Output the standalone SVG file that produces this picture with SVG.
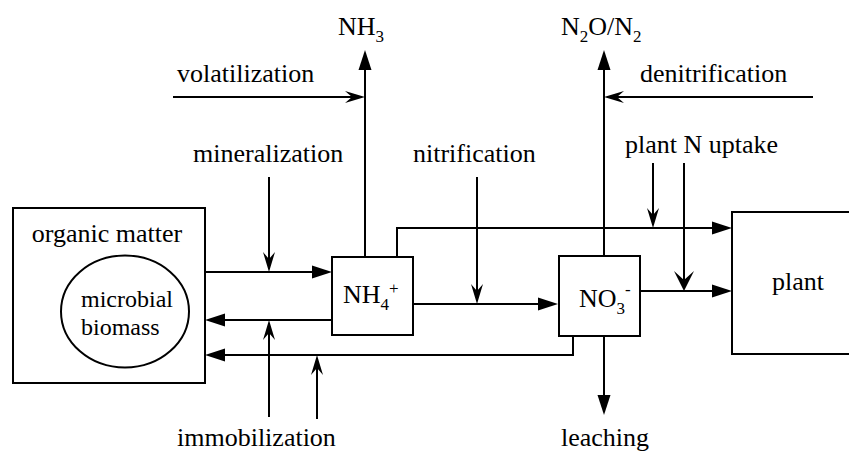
<svg xmlns="http://www.w3.org/2000/svg" width="849" height="452" viewBox="0 0 849 452">
<style>
text{font-family:"Liberation Serif","Tinos","Noto Serif","DejaVu Serif","FreeSerif","Nimbus Roman","Times New Roman",serif;font-size:26px;fill:#000}
.sm{font-size:24px}
.sub{font-size:17px}
.box{fill:#fff;stroke:#000;stroke-width:2}
.c path{fill:none;stroke:#000;stroke-width:2}
.mk{fill:#000;stroke:none}
</style>
<defs>
<marker id="tri" markerUnits="userSpaceOnUse" markerWidth="22" markerHeight="14" refX="17" refY="7" orient="auto" overflow="visible"><path class="mk" d="M0,0.5 L20,7 L0,13.5 Z"/></marker>
<marker id="st" markerUnits="userSpaceOnUse" markerWidth="22" markerHeight="14" refX="17" refY="6.5" orient="auto" overflow="visible"><path class="mk" d="M0,0.5 L20,6.5 L0,12.5 L7,6.5 Z"/></marker>
<marker id="bst" markerUnits="userSpaceOnUse" markerWidth="22" markerHeight="22" refX="17" refY="10" orient="auto" overflow="visible"><path class="mk" d="M0,0 L20,10 L0,20 L9,10 Z"/></marker>
</defs>

<g id="organic">
<rect class="box" x="13" y="208" width="192" height="175"/>
<text x="107" y="242" text-anchor="middle">organic matter</text>
</g>
<g id="microbial">
<ellipse class="box" cx="125" cy="311.5" rx="64" ry="56"/>
<text class="sm" x="81" y="307">microbial</text>
<text class="sm" x="81" y="335">biomass</text>
</g>
<g id="nh4">
<rect class="box" x="332" y="257" width="81" height="78"/>
<text x="343" y="303">NH<tspan class="sub" dy="7">4</tspan><tspan class="sub" dy="-16">+</tspan></text>
</g>
<g id="no3">
<rect class="box" x="559" y="256" width="81" height="80"/>
<text x="579" y="307">NO<tspan class="sub" dy="7">3</tspan><tspan class="sub" dy="-19">-</tspan></text>
</g>
<g id="plant">
<rect class="box" x="732" y="212" width="140" height="142"/>
<text x="798" y="290" text-anchor="middle">plant</text>
</g>
<g id="nh3">
<text x="338" y="35">NH<tspan class="sub" dy="7">3</tspan></text>
</g>
<g id="n2o">
<text x="561" y="35">N<tspan class="sub" dy="7">2</tspan><tspan dy="-7">O/N</tspan><tspan class="sub" dy="7">2</tspan></text>
</g>
<g id="labels">
<text x="177" y="82">volatilization</text>
<text x="193" y="162">mineralization</text>
<text x="413" y="162">nitrification</text>
<text x="640" y="82">denitrification</text>
<text x="625" y="153">plant N uptake</text>
<text x="177" y="446">immobilization</text>
<text x="561" y="446">leaching</text>
</g>

<g id="connectors" class="c">
<path d="M205,272 H329" marker-end="url(#tri)"/>
<path d="M269,177 V269" marker-end="url(#st)"/>
<path d="M332,320 H208" marker-end="url(#tri)"/>
<path d="M269,417 V323" marker-end="url(#st)"/>
<path d="M573,336 V355 H208" marker-end="url(#tri)"/>
<path d="M317,419 V358" marker-end="url(#st)"/>
<path d="M365,257 V53" marker-end="url(#tri)"/>
<path d="M173,97 H362" marker-end="url(#st)"/>
<path d="M397,257 V228 H729" marker-end="url(#tri)"/>
<path d="M413,304 H555" marker-end="url(#tri)"/>
<path d="M477,177 V301" marker-end="url(#st)"/>
<path d="M604,256 V53" marker-end="url(#tri)"/>
<path d="M813,97 H607" marker-end="url(#st)"/>
<path d="M604,336 V412" marker-end="url(#tri)"/>
<path d="M640,291 H729" marker-end="url(#tri)"/>
<path d="M653,163 V225" marker-end="url(#st)"/>
<path d="M684,163 V288" marker-end="url(#bst)"/>
</g>
</svg>
